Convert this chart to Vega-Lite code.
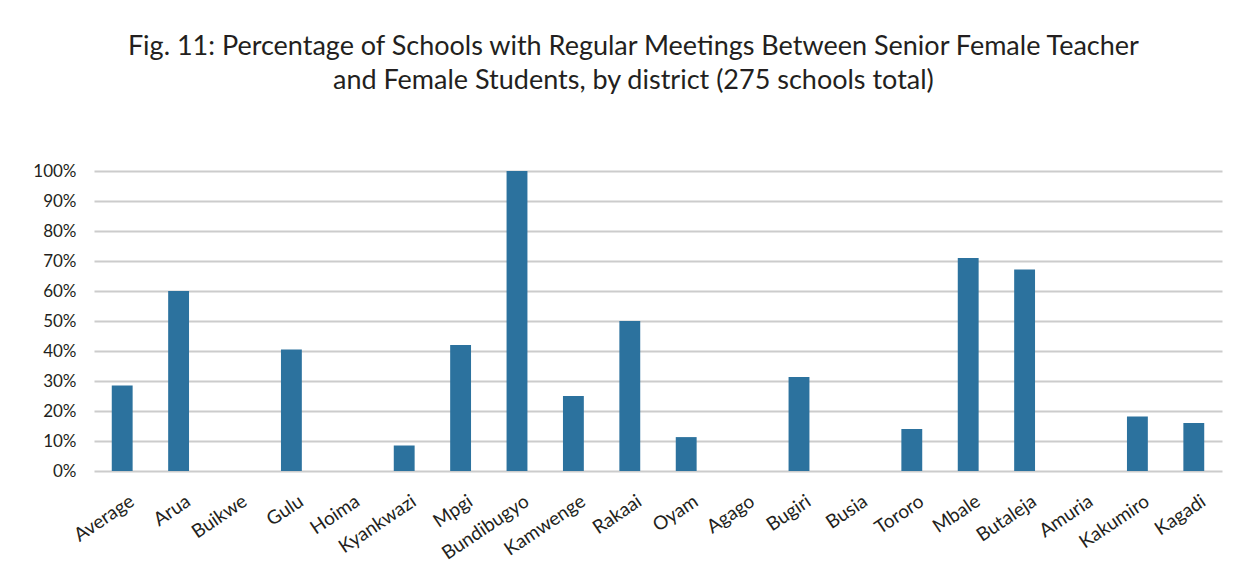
{
  "$schema": "https://vega.github.io/schema/vega-lite/v6.json",
  "width": 1128,
  "height": 300,
  "padding": {"left": 32, "top": 33, "right": 34, "bottom": 30},
  "background": "white",
  "title": {
    "text": ["Fig. 11: Percentage of Schools with Regular Meetings Between Senior Female Teacher", "and Female Students, by district (275 schools total)"],
    "font": "Lato",
    "fontSize": 27,
    "fontWeight": "normal",
    "color": "#231F20",
    "lineHeight": 34,
    "anchor": "middle",
    "frame": "bounds",
    "dx": 6,
    "offset": 67
  },
  "data": {
    "values": [
      {"district": "Average", "pct": 0.285},
      {"district": "Arua", "pct": 0.60},
      {"district": "Buikwe", "pct": 0},
      {"district": "Gulu", "pct": 0.405},
      {"district": "Hoima", "pct": 0},
      {"district": "Kyankwazi", "pct": 0.085},
      {"district": "Mpgi", "pct": 0.42},
      {"district": "Bundibugyo", "pct": 1.0},
      {"district": "Kamwenge", "pct": 0.25},
      {"district": "Rakaai", "pct": 0.50},
      {"district": "Oyam", "pct": 0.113},
      {"district": "Agago", "pct": 0},
      {"district": "Bugiri", "pct": 0.313},
      {"district": "Busia", "pct": 0},
      {"district": "Tororo", "pct": 0.14},
      {"district": "Mbale", "pct": 0.71},
      {"district": "Butaleja", "pct": 0.672},
      {"district": "Amuria", "pct": 0},
      {"district": "Kakumiro", "pct": 0.182},
      {"district": "Kagadi", "pct": 0.16}
    ]
  },
  "mark": {"type": "bar", "color": "#2C729E"},
  "encoding": {
    "x": {
      "field": "district",
      "type": "nominal",
      "sort": null,
      "scale": {"paddingInner": 0.63, "paddingOuter": 0.315},
      "axis": {
        "title": null,
        "labelAngle": -34,
        "labelAlign": "right",
        "labelBaseline": "middle",
        "labelFont": "Lato",
        "labelFontSize": 19,
        "labelColor": "#231F20",
        "labelPadding": 28,
        "labelOffset": 10,
        "ticks": false,
        "domain": false,
        "grid": false
      }
    },
    "y": {
      "field": "pct",
      "type": "quantitative",
      "scale": {"domain": [0, 1]},
      "axis": {
        "title": null,
        "format": ".0%",
        "values": [0, 0.1, 0.2, 0.3, 0.4, 0.5, 0.6, 0.7, 0.8, 0.9, 1.0],
        "labelFont": "Lato",
        "labelFontSize": 17,
        "labelColor": "#231F20",
        "labelPadding": 18,
        "ticks": false,
        "domain": false,
        "grid": true,
        "gridColor": "#CCCCCC",
        "gridWidth": 2
      }
    }
  },
  "config": {
    "view": {"stroke": null}
  }
}
